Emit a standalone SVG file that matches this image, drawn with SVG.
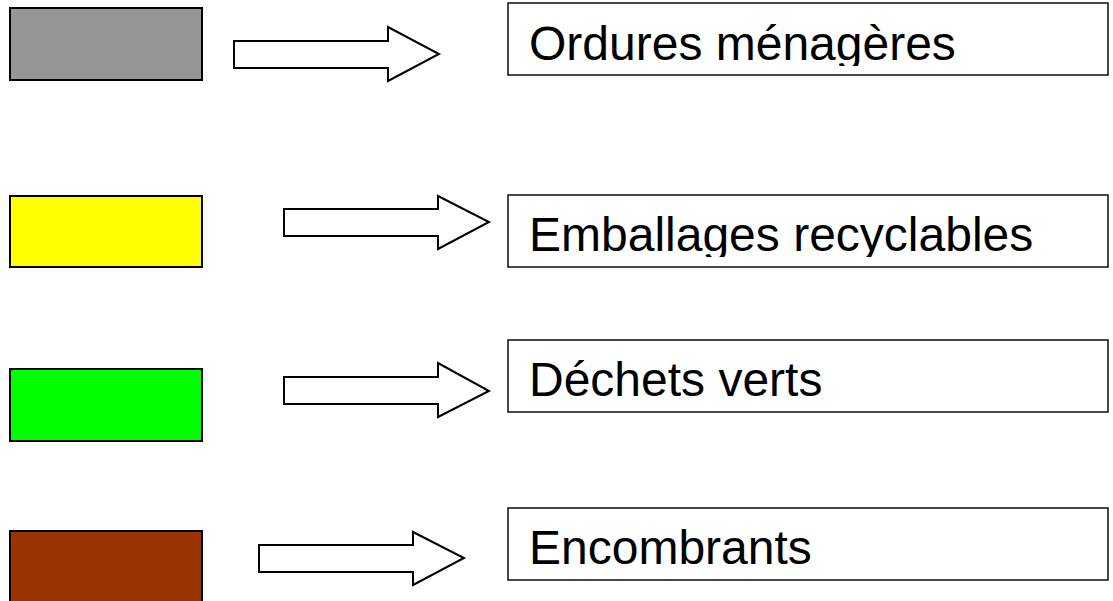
<svg xmlns="http://www.w3.org/2000/svg" width="1113" height="601" viewBox="0 0 1113 601">
<style>
.swatch{stroke:#000;stroke-width:2}
.box{fill:#fff;stroke:#1a1a1a;stroke-width:1.6}
.lbl{font-family:"Liberation Sans",Arial,sans-serif;font-size:48px;fill:#000}
.arr{fill:#fff;stroke:#000;stroke-width:2;stroke-linejoin:miter}
</style>
<defs>
<clipPath id="c1"><rect x="508" y="3" width="600" height="63"/></clipPath>
<clipPath id="c2"><rect x="508" y="195" width="600" height="62"/></clipPath>
<clipPath id="c3"><rect x="508" y="340" width="600" height="62"/></clipPath>
<clipPath id="c4"><rect x="508" y="508" width="600" height="62"/></clipPath>
</defs>
<rect width="1113" height="601" fill="#fff"/>
<g id="swatch-gray"><rect class="swatch" x="10" y="8" width="192" height="72" fill="#969696"/></g>
<g id="swatch-yellow"><rect class="swatch" x="10" y="196" width="192" height="71" fill="#ffff00"/></g>
<g id="swatch-green"><rect class="swatch" x="10" y="369" width="192" height="72" fill="#00ff00"/></g>
<g id="swatch-brown"><rect class="swatch" x="10" y="531" width="192" height="80" fill="#993300"/></g>
<g id="label-ordures"><rect class="box" x="508" y="3" width="600" height="72"/><text class="lbl" x="529" y="60" clip-path="url(#c1)">Ordures ménagères</text></g>
<g id="label-emballages"><rect class="box" x="508" y="195" width="600" height="72"/><text class="lbl" x="529" y="251" clip-path="url(#c2)">Emballages recyclables</text></g>
<g id="label-dechets"><rect class="box" x="508" y="340" width="600" height="72"/><text class="lbl" x="529" y="396" clip-path="url(#c3)">Déchets verts</text></g>
<g id="label-encombrants"><rect class="box" x="508" y="508" width="600" height="72"/><text class="lbl" x="529" y="564" clip-path="url(#c4)">Encombrants</text></g>
<g id="connectors">
<polygon class="arr" points="234,41 388,41 388,27 439,54 388,81 388,68 234,68"/>
<polygon class="arr" points="284,209 438,209 438,196 489,222 438,249 438,236 284,236"/>
<polygon class="arr" points="284,377 438,377 438,363 489,391 438,417 438,404 284,404"/>
<polygon class="arr" points="259,545 413,545 413,532 464,558 413,585 413,572 259,572"/>
</g>
</svg>
